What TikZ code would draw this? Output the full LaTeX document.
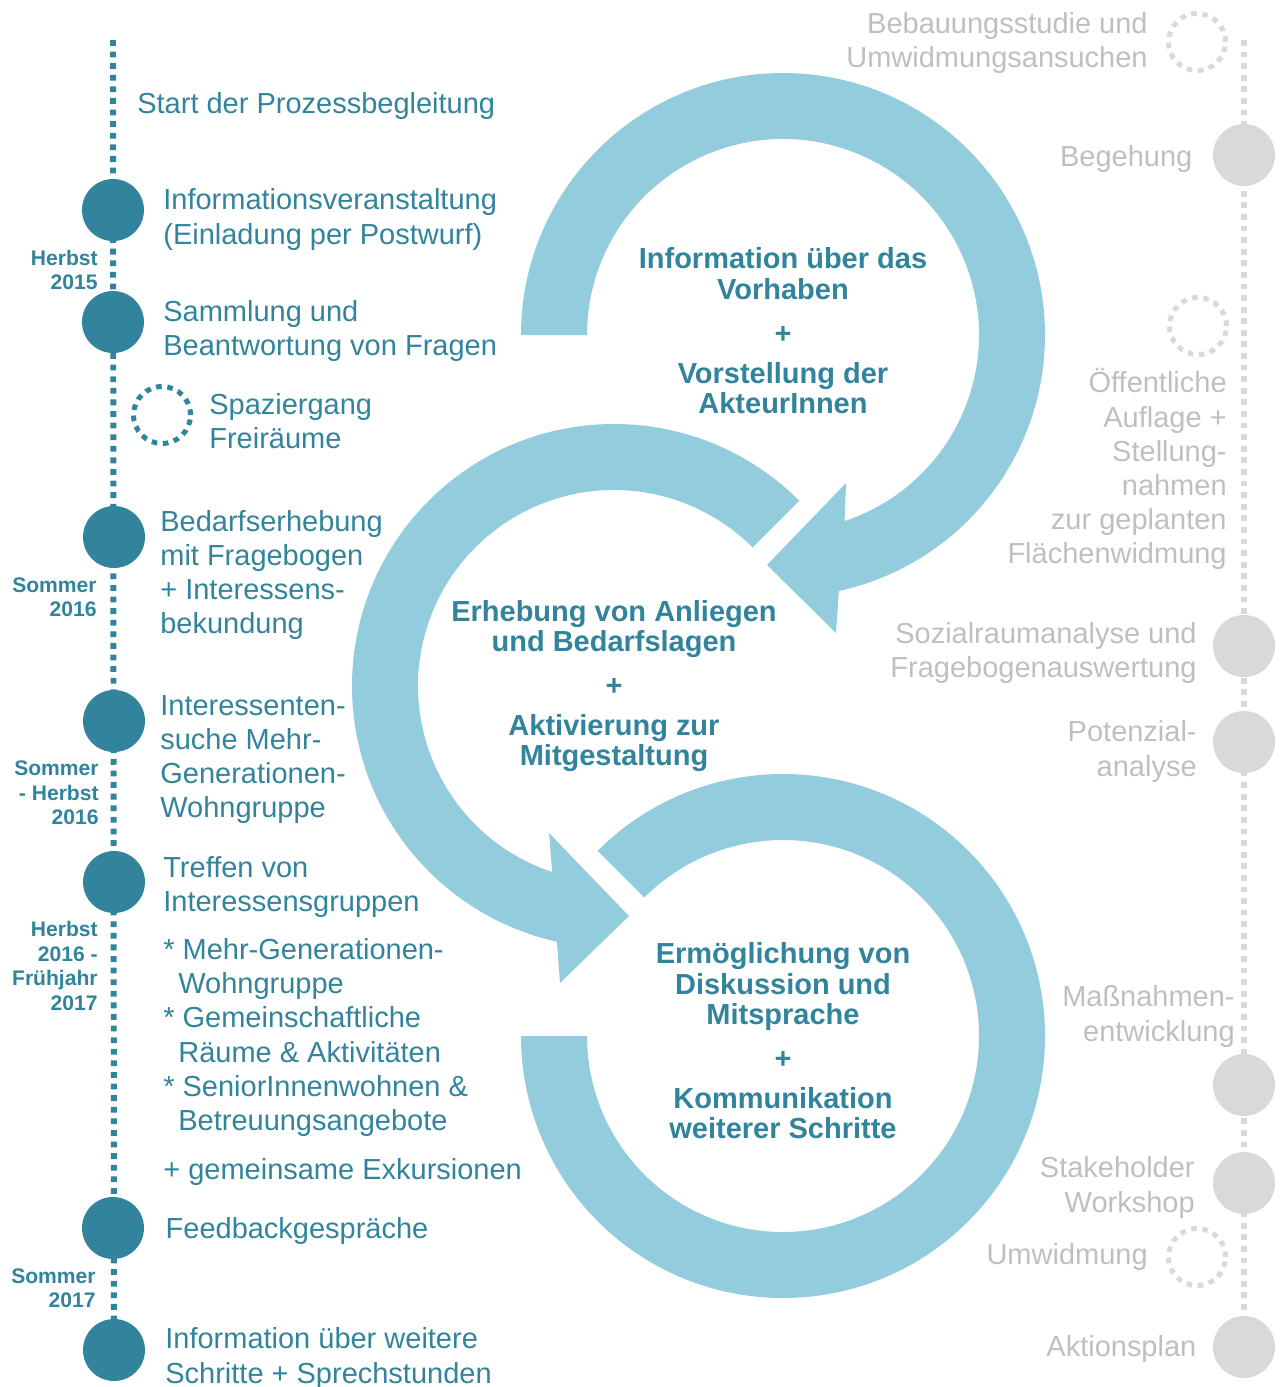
\documentclass[tikz,border=0pt]{standalone}
\usepackage{fontspec}
\setmainfont{Liberation Sans}
\usetikzlibrary{calc}
\pgfdeclarelayer{bg}
\pgfsetlayers{bg,main}
\definecolor{tealdark}{RGB}{49,132,155}
\definecolor{ringfill}{RGB}{147,205,221}
\definecolor{graydot}{RGB}{217,217,217}
\definecolor{graytext}{RGB}{191,191,191}
\tikzset{
    tdot/.style={circle, fill=tealdark, minimum size=1.24cm, inner sep=0mm},
    gdot/.style={circle, fill=graydot, minimum size=1.24cm, inner sep=0mm},
    tring/.style={circle, draw=tealdark, line width=2.85pt, dash pattern=on 3.2pt off 3.2pt, minimum size=1.14cm, inner sep=0mm},
    gring/.style={circle, draw=graydot, line width=2.85pt, dash pattern=on 3.2pt off 3.2pt, minimum size=1.14cm, inner sep=0mm},
    ltxt/.style={anchor=west, align=left, text=tealdark, inner sep=0mm, font=\fontsize{16.5}{19.4}\selectfont},
    rtxt/.style={anchor=east, align=right, text=graytext, inner sep=0mm, font=\fontsize{16.5}{19.4}\selectfont},
    datetxt/.style={anchor=east, align=right, text=tealdark, inner sep=0mm, font=\fontsize{12}{13.9}\selectfont\bfseries},
    ctxt/.style={align=center, text=tealdark, inner sep=0mm, font=\fontsize{16.5}{17.1}\selectfont\bfseries},
    tline/.style={draw=tealdark, line width=3.4pt, dash pattern=on 3.3pt off 3.3pt},
    gline/.style={draw=graydot, line width=3.2pt, dash pattern=on 3.3pt off 3.3pt}
}
\tikzset{every label/.style={inner sep=0mm, font=\fontsize{16.5}{19.4}\selectfont}}

\begin{document}
\begin{tikzpicture}[x=0.02cm, y=-0.02cm]
    \useasboundingbox (0,0) rectangle (1285,1387);

    % ring arrows
    \coordinate (c1) at (783,335);
    \coordinate (c2) at (614,686);
    \coordinate (c3) at (783,1036);

    \fill[ringfill] ($(c1)+(180:262)$) arc[start angle=180, end angle=437.7, radius=262]
        -- (836,633) -- (767,565) -- (846,483)
        -- ($(c1)+(431.7:196)$) arc[start angle=431.7, end angle=180, radius=196] -- cycle;
    \fill[ringfill] ($(c2)+(315:262)$) arc[start angle=315, end angle=102.6, radius=262]
        -- (560,983) -- (629,916) -- (549,833)
        -- ($(c2)+(108.4:196)$) arc[start angle=108.4, end angle=315, radius=196] -- cycle;
    \fill[ringfill] ($(c3)+(225:262)$) arc[start angle=225, end angle=540, radius=262]
        -- ($(c3)+(180:196)$) arc[start angle=540, end angle=225, radius=196] -- cycle;

    \node (m1) at (783,331) [ctxt] {Information über das\\Vorhaben\\[8pt]+\\[6pt]Vorstellung der\\AkteurInnen};
    \node (m2) at (614,686) [ctxt] {Erhebung von Anliegen\\und Bedarfslagen\\[8pt]+\\[6pt]Aktivierung zur\\Mitgestaltung};
    \node (m3) at (783,1041) [ctxt] {Ermöglichung von\\Diskussion und\\Mitsprache\\[8pt]+\\[6pt]Kommunikation\\weiterer Schritte};

    % left timeline
    \coordinate (ltop) at (113,40);
    \node (i1) at (113,210) [tdot] {};
    \node (i2) at (113,322) [tdot] {};
    \node (sp) at (162,415) [tring] {};
    \node (i3) at (114,537) [tdot] {};
    \node (i4) at (114,721) [tdot] {};
    \node (i5) at (114,882) [tdot] {};
    \node (i6) at (113,1228) [tdot, label={[text=tealdark, label distance=0.42cm, yshift=-0.06cm]right:Feedbackgespräche}] {};
    \node (i7) at (114,1350) [tdot] {};

    \node (start) at (137,106) [ltxt] {Start der Prozessbegleitung};
    \node (t1) at (163,219.5) [ltxt] {Informationsveranstaltung\\(Einladung per Postwurf)};
    \node (t2) at (163,331) [ltxt] {Sammlung und\\Beantwortung von Fragen};
    \node (t3) at (209,421) [ltxt] {Spaziergang\\Freiräume};
    \node (t4) at (160,575) [ltxt] {Bedarfserhebung\\mit Fragebogen\\+ Interessens-\\bekundung};
    \node (t5) at (160,759.5) [ltxt] {Interessenten-\\suche Mehr-\\Generationen-\\Wohngruppe};
    \node (t6) at (163,887) [ltxt] {Treffen von\\Interessensgruppen};
    \node (t7) at (163,1037.5) [ltxt] {*\ Mehr-Generationen-\\\hspace*{0.3cm}Wohngruppe\\{*}\ Gemeinschaftliche\\\hspace*{0.3cm}Räume \& Aktivitäten\\{*}\ SeniorInnenwohnen \&\\\hspace*{0.3cm}Betreuungsangebote};
    \node (t8) at (163,1172) [ltxt] {+ gemeinsame Exkursionen};
    \node (t9) at (165,1358.5) [ltxt] {Information über weitere\\Schritte + Sprechstunden};

    \node (d1) at (98,270) [datetxt] {Herbst\\2015};
    \node (d2) at (97,597) [datetxt] {Sommer\\2016};
    \node (d3) at (99,793) [datetxt] {Sommer\\- Herbst\\2016};
    \node (d4) at (98,966) [datetxt] {Herbst\\2016 -\\Frühjahr\\2017};
    \node (d5) at (96,1288) [datetxt] {Sommer\\2017};

    % right timeline
    \coordinate (rtop) at (1244,40);
    \node (bs) at (1197,42) [gring] {};
    \node (r1) at (1244,155) [gdot, label={[text=graytext, label distance=0.4cm, yshift=-0.08cm]left:Begehung}] {};
    \node (oa) at (1198,326) [gring] {};
    \node (r2) at (1244,646) [gdot] {};
    \node (r3) at (1244,742) [gdot] {};
    \node (r4) at (1244,1085) [gdot] {};
    \node (r5) at (1244,1183) [gdot] {};
    \node (uw) at (1197,1257) [gring] {};
    \node (r6) at (1244,1347) [gdot, label={[text=graytext, label distance=0.32cm, yshift=-0.04cm]left:Aktionsplan}] {};

    \node (g1) at (1148,43) [rtxt] {Bebauungsstudie und\\Umwidmungsansuchen};
    \node (g3) at (1227,469) [rtxt] {Öffentliche\\Auflage +\\Stellung-\\nahmen\\zur geplanten\\Flächenwidmung};
    \node (g4) at (1197,653) [rtxt] {Sozialraumanalyse und\\Fragebogenauswertung};
    \node (g5) at (1197,751.5) [rtxt] {Potenzial-\\analyse};
    \node (g6) at (1235,1016.5) [rtxt] {Maßnahmen-\\entwicklung};
    \node (g7) at (1195,1187.5) [rtxt] {Stakeholder\\Workshop};
    \node (g8) at (1148,1257) [rtxt] {Umwidmung};

    \begin{pgfonlayer}{bg}
        \draw[tline] (ltop) -- (i7.center);
        \draw[gline] (rtop) -- (r6.center);
    \end{pgfonlayer}
\end{tikzpicture}
\end{document}
